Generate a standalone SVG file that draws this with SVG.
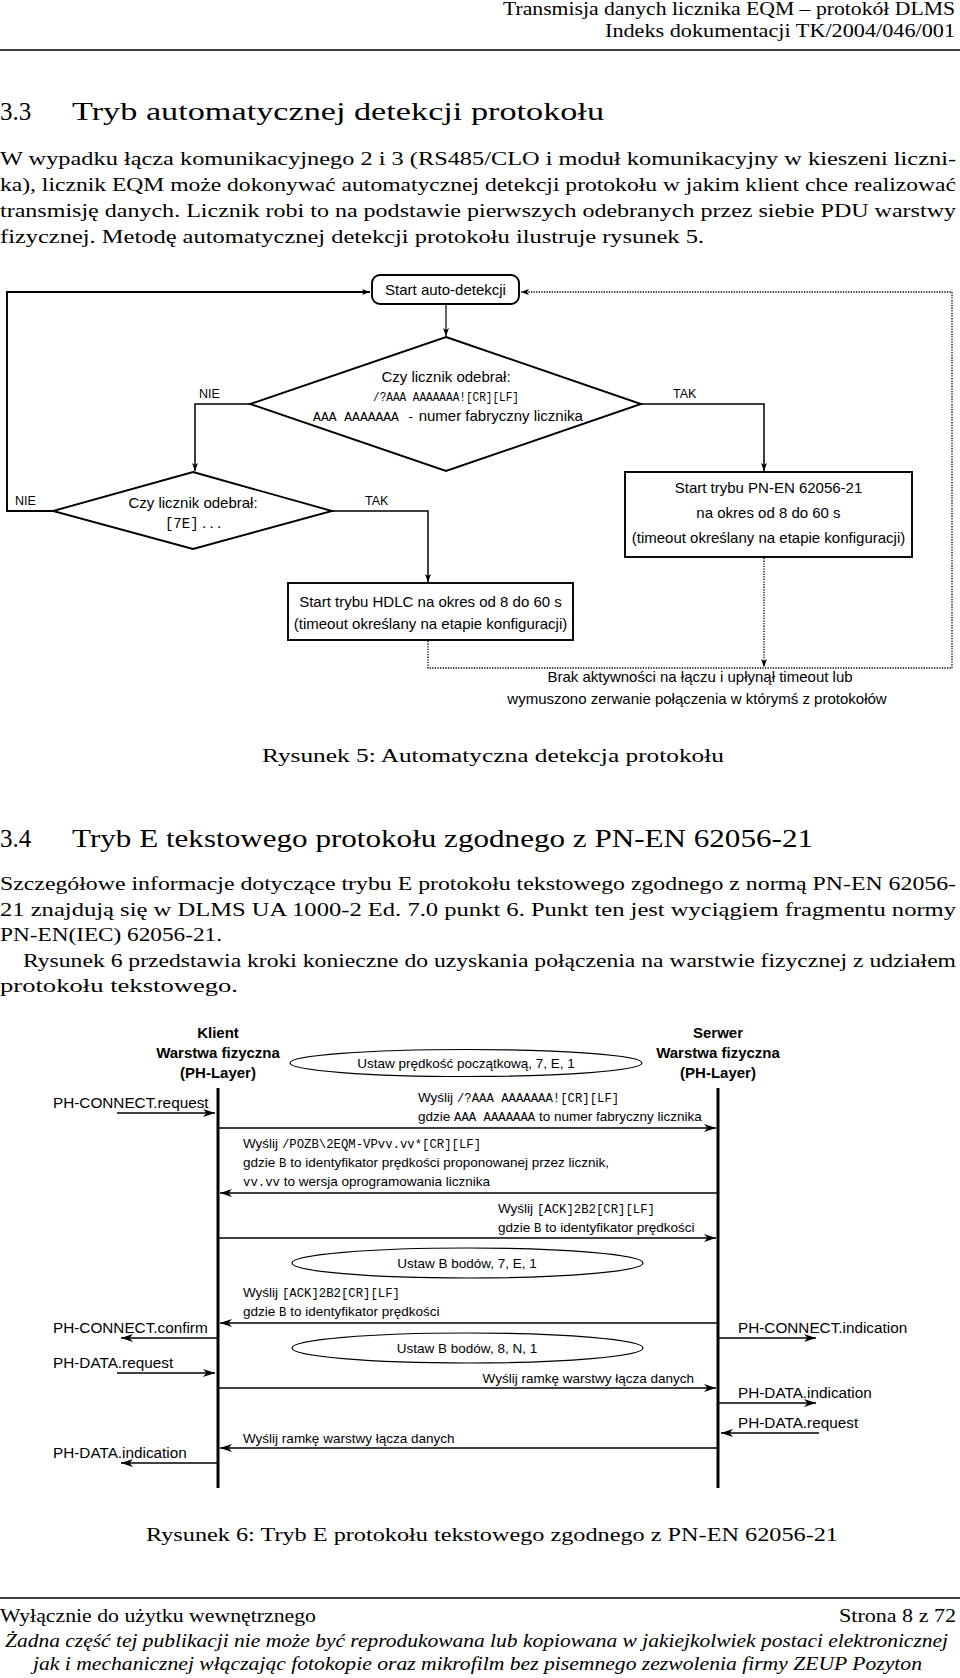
<svg xmlns="http://www.w3.org/2000/svg" width="960" height="1678" viewBox="0 0 960 1678">
<style>
text{fill:#000}
.serif{font-family:"Liberation Serif","Times New Roman",serif}
.body{font-size:18.5px}
.head{font-size:25px}
.it{font-style:italic}
.sans{font-family:"Liberation Sans",Arial,sans-serif}
.fc{font-size:15px}
.lab{font-size:12.5px}
.mono{font-family:"Liberation Mono","Courier New",monospace}
.fmono{font-size:13px}
.msg{font-size:13.5px}
.smono{font-size:12.3px}
.side{font-size:15.3px}
.hdr{font-size:15px;font-weight:bold}
.ln{fill:none;stroke:#000}
.box{fill:#fff;stroke:#000;stroke-width:1.9}
.dot{fill:none;stroke:#000;stroke-width:1.3;stroke-dasharray:1.3 1.3}
.life{stroke:#000;stroke-width:3;fill:none}
.ar{fill:none;stroke:#000;stroke-width:1.3}
.ell{fill:#fff;stroke:#000;stroke-width:1.2}
</style>
<defs>
<marker id="fa" markerWidth="8" markerHeight="6" refX="8" refY="3" orient="auto" markerUnits="userSpaceOnUse"><path d="M0,0 L8,3 L0,6 L2,3 z" fill="#000"/></marker>
<marker id="sa" markerWidth="12" markerHeight="8" refX="12" refY="4" orient="auto" markerUnits="userSpaceOnUse"><path d="M0,0 L12,4 L0,8 L3.5,4 z" fill="#000"/></marker>
</defs>
<rect x="0" y="0" width="960" height="1678" fill="#fff"/>

<g id="page-header" class="serif body">
<text x="955" y="15" text-anchor="end" textLength="452" lengthAdjust="spacingAndGlyphs">Transmisja danych licznika EQM – protokół DLMS</text>
<text x="955" y="37" text-anchor="end" textLength="350" lengthAdjust="spacingAndGlyphs">Indeks dokumentacji TK/2004/046/001</text>
<line x1="0" y1="50" x2="960" y2="50" stroke="#000" stroke-width="1.3"/>
</g>

<g id="section-3-3" class="serif">
<text x="0" y="120" class="head">3.3</text>
<text x="72" y="120" class="head" textLength="532" lengthAdjust="spacingAndGlyphs">Tryb automatycznej detekcji protokołu</text>
<text x="0" y="165" class="body" textLength="956" lengthAdjust="spacingAndGlyphs">W wypadku łącza komunikacyjnego 2 i 3 (RS485/CLO i moduł komunikacyjny w kieszeni liczni-</text>
<text x="0" y="191" class="body" textLength="956" lengthAdjust="spacingAndGlyphs">ka), licznik EQM może dokonywać automatycznej detekcji protokołu w jakim klient chce realizować</text>
<text x="0" y="217" class="body" textLength="956" lengthAdjust="spacingAndGlyphs">transmisję danych. Licznik robi to na podstawie pierwszych odebranych przez siebie PDU warstwy</text>
<text x="0" y="243" class="body" textLength="704" lengthAdjust="spacingAndGlyphs">fizycznej. Metodę automatycznej detekcji protokołu ilustruje rysunek 5.</text>
</g>

<g id="fig5-connectors">
<polyline class="ln" stroke-width="1.9" points="55,511 7,511 7,292 370,292" marker-end="url(#fa)"/>
<polyline class="ln" stroke-width="1.2" points="446,304 446,336" marker-end="url(#fa)"/>
<polyline class="ln" stroke-width="1.5" points="250,404 195,404 195,471" marker-end="url(#fa)"/>
<polyline class="ln" stroke-width="1.5" points="641,404 764,404 764,471" marker-end="url(#fa)"/>
<polyline class="ln" stroke-width="1.5" points="332,511 428,511 428,582" marker-end="url(#fa)"/>
<polyline class="dot" points="428,641 428,668 952,668 952,292 521,292" marker-end="url(#fa)"/>
<polyline class="dot" points="764,558 764,667" marker-end="url(#fa)"/>
</g>

<g id="fig5-start" class="sans fc">
<rect class="box" x="372" y="275" width="147" height="29" rx="8"/>
<text x="445.5" y="295" text-anchor="middle">Start auto-detekcji</text>
</g>

<g id="fig5-decision1" class="sans fc">
<polygon class="box" points="446,337 641,404 446,471 250,404"/>
<text x="446" y="382" text-anchor="middle">Czy licznik odebrał:</text>
<text x="446" y="401" text-anchor="middle" class="mono fmono" textLength="146" lengthAdjust="spacingAndGlyphs">/?AAA AAAAAAA![CR][LF]</text>
<text x="448" y="421" text-anchor="middle"><tspan class="mono fmono">AAA AAAAAAA -</tspan> numer fabryczny licznika</text>
<text x="199" y="398" class="lab">NIE</text>
<text x="673" y="398" class="lab">TAK</text>
</g>

<g id="fig5-decision2" class="sans fc">
<polygon class="box" points="193,472 332,511 193,549 53,511"/>
<text x="193" y="508" text-anchor="middle">Czy licznik odebrał:</text>
<text x="193" y="528" text-anchor="middle"><tspan class="mono" style="font-size:14px">[7E]</tspan><tspan class="serif" style="font-size:15px"> . . .</tspan></text>
<text x="15" y="505" class="lab">NIE</text>
<text x="365" y="505" class="lab">TAK</text>
</g>

<g id="fig5-pnen" class="sans fc">
<rect class="box" x="625" y="472" width="287" height="85"/>
<text x="768.5" y="493" text-anchor="middle">Start trybu PN-EN 62056-21</text>
<text x="768.5" y="518" text-anchor="middle">na okres od 8 do 60 s</text>
<text x="768.5" y="543" text-anchor="middle">(timeout określany na etapie konfiguracji)</text>
</g>

<g id="fig5-hdlc" class="sans fc">
<rect class="box" x="288" y="583" width="285" height="57"/>
<text x="430.5" y="607" text-anchor="middle">Start trybu HDLC na okres od 8 do 60 s</text>
<text x="430.5" y="629" text-anchor="middle">(timeout określany na etapie konfiguracji)</text>
</g>

<g id="fig5-note" class="sans fc">
<text x="700" y="682" text-anchor="middle">Brak aktywności na łączu i upłynął timeout lub</text>
<text x="697" y="704" text-anchor="middle">wymuszono zerwanie połączenia w którymś z protokołów</text>
</g>

<g id="fig5-caption" class="serif body">
<text x="262" y="762" textLength="462" lengthAdjust="spacingAndGlyphs">Rysunek 5: Automatyczna detekcja protokołu</text>
</g>

<g id="section-3-4" class="serif">
<text x="0" y="847" class="head">3.4</text>
<text x="72" y="847" class="head" textLength="741" lengthAdjust="spacingAndGlyphs">Tryb E tekstowego protokołu zgodnego z PN-EN 62056-21</text>
<text x="0" y="890" class="body" textLength="956" lengthAdjust="spacingAndGlyphs">Szczegółowe informacje dotyczące trybu E protokołu tekstowego zgodnego z normą PN-EN 62056-</text>
<text x="0" y="915.5" class="body" textLength="956" lengthAdjust="spacingAndGlyphs">21 znajdują się w DLMS UA 1000-2 Ed. 7.0 punkt 6. Punkt ten jest wyciągiem fragmentu normy</text>
<text x="0" y="941" class="body" textLength="222" lengthAdjust="spacingAndGlyphs">PN-EN(IEC) 62056-21.</text>
<text x="23" y="967" class="body" textLength="933" lengthAdjust="spacingAndGlyphs">Rysunek 6 przedstawia kroki konieczne do uzyskania połączenia na warstwie fizycznej z udziałem</text>
<text x="0" y="992" class="body" textLength="238" lengthAdjust="spacingAndGlyphs">protokołu tekstowego.</text>
</g>

<g id="fig6-client" class="sans">
<text x="218" y="1038" text-anchor="middle" class="hdr">Klient</text>
<text x="218" y="1058" text-anchor="middle" class="hdr">Warstwa fizyczna</text>
<text x="218" y="1078" text-anchor="middle" class="hdr">(PH-Layer)</text>
<line class="life" x1="218" y1="1088" x2="218" y2="1488"/>
</g>

<g id="fig6-server" class="sans">
<text x="718" y="1038" text-anchor="middle" class="hdr">Serwer</text>
<text x="718" y="1058" text-anchor="middle" class="hdr">Warstwa fizyczna</text>
<text x="718" y="1078" text-anchor="middle" class="hdr">(PH-Layer)</text>
<line class="life" x1="718" y1="1088" x2="718" y2="1488"/>
</g>

<g id="fig6-state1" class="sans msg">
<ellipse class="ell" cx="466" cy="1063" rx="176" ry="13.5"/>
<text x="466" y="1068" text-anchor="middle">Ustaw prędkość początkową, 7, E, 1</text>
</g>
<g id="fig6-state2" class="sans msg">
<ellipse class="ell" cx="467.5" cy="1263" rx="175.5" ry="15"/>
<text x="467" y="1268" text-anchor="middle">Ustaw B bodów, 7, E, 1</text>
</g>
<g id="fig6-state3" class="sans msg">
<ellipse class="ell" cx="467.5" cy="1348" rx="175.5" ry="15"/>
<text x="467" y="1353" text-anchor="middle">Ustaw B bodów, 8, N, 1</text>
</g>

<g id="fig6-connectors">
<line class="ar" x1="117" y1="1113" x2="215" y2="1113" marker-end="url(#sa)"/>
<line class="ar" x1="218" y1="1128" x2="716" y2="1128" marker-end="url(#sa)"/>
<line class="ar" x1="718" y1="1193" x2="220" y2="1193" marker-end="url(#sa)"/>
<line class="ar" x1="218" y1="1238" x2="716" y2="1238" marker-end="url(#sa)"/>
<line class="ar" x1="718" y1="1323" x2="220" y2="1323" marker-end="url(#sa)"/>
<line class="ar" x1="217" y1="1338" x2="121" y2="1338" marker-end="url(#sa)"/>
<line class="ar" x1="719" y1="1338" x2="816" y2="1338" marker-end="url(#sa)"/>
<line class="ar" x1="117" y1="1373" x2="215" y2="1373" marker-end="url(#sa)"/>
<line class="ar" x1="218" y1="1388" x2="716" y2="1388" marker-end="url(#sa)"/>
<line class="ar" x1="719" y1="1403" x2="816" y2="1403" marker-end="url(#sa)"/>
<line class="ar" x1="819" y1="1433" x2="721" y2="1433" marker-end="url(#sa)"/>
<line class="ar" x1="718" y1="1448" x2="220" y2="1448" marker-end="url(#sa)"/>
<line class="ar" x1="217" y1="1463" x2="121" y2="1463" marker-end="url(#sa)"/>
</g>

<g id="fig6-labels" class="sans">
<text x="53" y="1108" class="side">PH-CONNECT.request</text>
<text x="53" y="1333" class="side">PH-CONNECT.confirm</text>
<text x="53" y="1368" class="side">PH-DATA.request</text>
<text x="53" y="1458" class="side">PH-DATA.indication</text>
<text x="738" y="1333" class="side">PH-CONNECT.indication</text>
<text x="738" y="1398" class="side">PH-DATA.indication</text>
<text x="738" y="1428" class="side">PH-DATA.request</text>

<text x="418" y="1102" class="msg">Wyślij <tspan class="mono smono">/?AAA AAAAAAA![CR][LF]</tspan></text>
<text x="418" y="1121" class="msg">gdzie <tspan class="mono smono">AAA AAAAAAA</tspan> to numer fabryczny licznika</text>

<text x="243" y="1148" class="msg">Wyślij <tspan class="mono smono">/POZB\2EQM-VPvv.vv*[CR][LF]</tspan></text>
<text x="243" y="1167" class="msg">gdzie <tspan class="mono smono">B</tspan> to identyfikator prędkości proponowanej przez licznik,</text>
<text x="243" y="1186" class="msg"><tspan class="mono smono">vv.vv</tspan> to wersja oprogramowania licznika</text>

<text x="498" y="1213" class="msg">Wyślij <tspan class="mono smono">[ACK]2B2[CR][LF]</tspan></text>
<text x="498" y="1232" class="msg">gdzie <tspan class="mono smono">B</tspan> to identyfikator prędkości</text>

<text x="243" y="1297" class="msg">Wyślij <tspan class="mono smono">[ACK]2B2[CR][LF]</tspan></text>
<text x="243" y="1316" class="msg">gdzie <tspan class="mono smono">B</tspan> to identyfikator prędkości</text>

<text x="694" y="1383" class="msg" text-anchor="end">Wyślij ramkę warstwy łącza danych</text>
<text x="243" y="1443" class="msg">Wyślij ramkę warstwy łącza danych</text>
</g>

<g id="fig6-caption" class="serif body">
<text x="146" y="1541" textLength="692" lengthAdjust="spacingAndGlyphs">Rysunek 6: Tryb E protokołu tekstowego zgodnego z PN-EN 62056-21</text>
</g>

<g id="page-footer" class="serif body">
<line x1="0" y1="1598" x2="960" y2="1598" stroke="#000" stroke-width="1.3"/>
<text x="0" y="1622" textLength="316" lengthAdjust="spacingAndGlyphs">Wyłącznie do użytku wewnętrznego</text>
<text x="956" y="1622" text-anchor="end" textLength="117" lengthAdjust="spacingAndGlyphs">Strona 8 z 72</text>
<text x="5" y="1647" class="it" textLength="943" lengthAdjust="spacingAndGlyphs">Żadna część tej publikacji nie może być reprodukowana lub kopiowana w jakiejkolwiek postaci elektronicznej</text>
<text x="33" y="1670" class="it" textLength="889" lengthAdjust="spacingAndGlyphs">jak i mechanicznej włączając fotokopie oraz mikrofilm bez pisemnego zezwolenia firmy ZEUP Pozyton</text>
</g>
</svg>
